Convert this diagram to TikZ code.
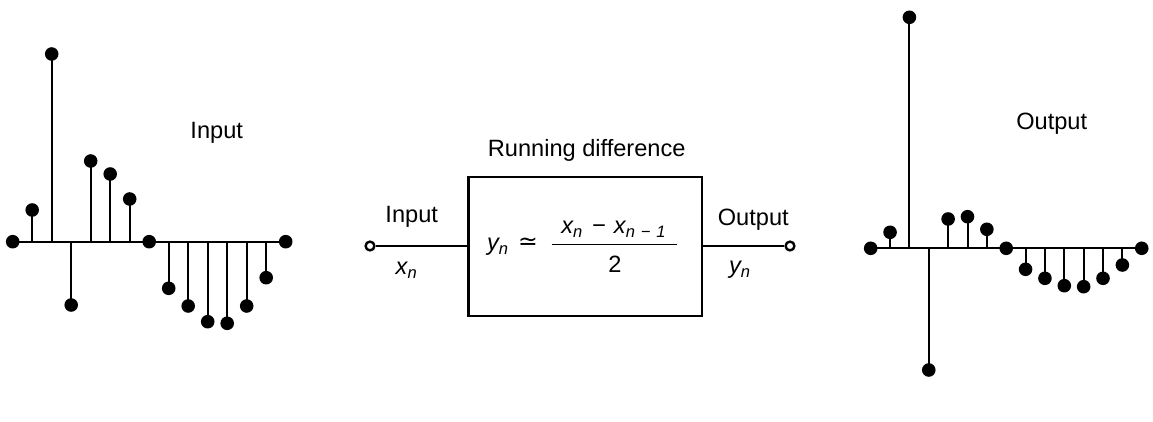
\documentclass[tikz,border=0pt]{standalone}
\usepackage{fontspec}
\setmainfont{Liberation Sans}
\newfontfamily\symfont{DejaVu Sans}
\begin{document}
\begin{tikzpicture}[x=0.5pt,y=-0.5pt,
  stem/.style={line width=1pt},
  axisline/.style={line width=1.1pt},
  dot/.style={circle,fill=black,inner sep=0pt,minimum size=6.8pt},
  lbl/.style={font=\fontsize{11.8}{14}\selectfont,inner sep=0pt},
  blockbox/.style={draw,line width=1.1pt,minimum width=116.75pt,minimum height=69.5pt,inner sep=0pt},
  terminal/.style={circle,draw,line width=1.2pt,minimum size=4.4pt,inner sep=0pt,fill=white},
  wire/.style={line width=1.1pt}]
\useasboundingbox (0,0) rectangle (1153,422);
% ---------- input stem plot ----------
\coordinate (inL) at (12.7,241.7);
\coordinate (inR) at (285.7,241.7);
\draw[axisline] (inL) -- (inR);
\foreach \y [count=\k from 0] in {241.7,210,54,305,161,174,199,241.7,288.3,306,321.7,323.3,306,277.7,241.7}{
  \pgfmathsetmacro{\xx}{12.7+19.5*\k}
  \draw[stem] (\xx,241.7) -- (\xx,\y);
  \node[dot] (i\k) at (\xx,\y) {};
}
\node[lbl] (inlabel) at (216.7,133.3) {Input};
% ---------- output stem plot ----------
\coordinate (outL) at (870.7,248.3);
\coordinate (outR) at (1141.7,248.3);
\draw[axisline] (outL) -- (outR);
\foreach \y [count=\k from 0] in {248.3,232.3,17.3,370,219,216.7,229.3,248.3,269.3,278.3,285.7,286.7,278.3,265,248.3}{
  \pgfmathsetmacro{\xx}{870.7+19.36*\k}
  \draw[stem] (\xx,248.3) -- (\xx,\y);
  \node[dot] (o\k) at (\xx,\y) {};
}
\node[lbl] (outlabel) at (1051.7,123.3) {Output};
% ---------- block ----------
\node[blockbox] (box) at (585.3,246.5) {};
\node[lbl] (title) at (586.7,150) {Running difference};
\node[terminal] (tin) at (370,246) {};
\node[terminal] (tout) at (790,246) {};
\draw[wire] (tin) -- (tin -| box.west);
\draw[wire] (box.east |- tout) -- (tout);
\node[lbl] (inword) at (411.7,216.7) {Input};
\node[lbl] (xn) at (406.7,270) {\itshape x\textsubscript{n}};
\node[lbl] (outword) at (753.3,220) {Output};
\node[lbl] (yn) at (740,270) {\itshape y\textsubscript{n}};
% equation
\node[lbl] (eqy) at (498,247) {\itshape y\textsubscript{n}};
\node[lbl] (eqsign) at (528,244) {\symfont ≃};
\node[lbl] (num) at (614,229) {\addfontfeature{LetterSpace=8}\itshape x\textsubscript{n} − x\textsubscript{n − 1}};
\node[lbl] (den) at (615,264) {2};
\draw[line width=0.9pt] (551.7,244.5) -- (676.7,244.5);
\end{tikzpicture}
\end{document}
